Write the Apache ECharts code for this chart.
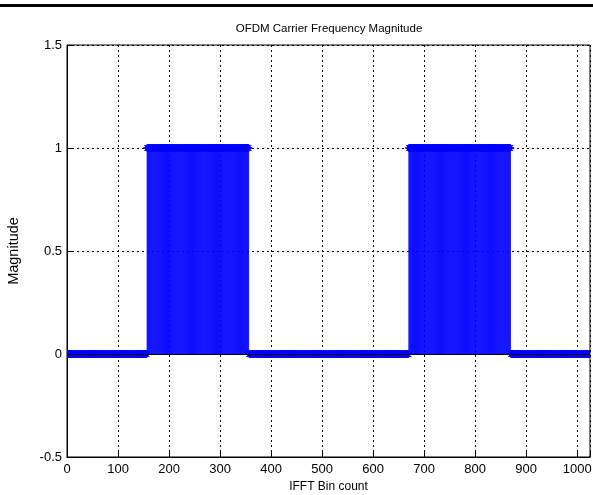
<!DOCTYPE html>
<html>
<head>
<meta charset="utf-8">
<script src="https://cdn.jsdelivr.net/npm/echarts@6/dist/echarts.min.js"></script>
<style>
  html, body { margin: 0; padding: 0; background: #fff; }
  #chart { width: 593px; height: 495px; }
</style>
</head>
<body>
<div id="chart"></div>
<script>
// Carrier magnitude per IFFT bin (bins 1..1024), stored as runs of equal value
const firstBin = 1;
const runValues = [0, 1, 0, 1, 0];
const runLengths = [156, 200, 313, 200, 155];

const xTicks = [0, 100, 200, 300, 400, 500, 600, 700, 800, 900, 1000];
const yTicks = [-0.5, 0, 0.5, 1, 1.5];

const titleText = 'OFDM Carrier Frequency Magnitude';
const xName = 'IFFT Bin count';
const yName = 'Magnitude';

// expand the runs into one [bin, magnitude] pair per bin
const stems = [];
let bin = firstBin;
runValues.forEach(function (v, i) {
  for (let k = 0; k < runLengths[i]; k++) {
    stems.push([bin, v]);
    bin++;
  }
});

const BLUE = '#0000ff';
const FONT = 'Liberation Sans, Arial, sans-serif';

// one stem: vertical line from the baseline plus an asterisk marker at the tip
function renderStem(params, api) {
  const x = api.value(0);
  const y = api.value(1);
  const tip = api.coord([x, y]);
  const base = api.coord([x, 0]);
  const r = 4;
  const d = r * 0.7071;
  const cx = tip[0], cy = tip[1];
  const stemStyle = { stroke: BLUE, lineWidth: 0.85 };
  const starStyle = { stroke: BLUE, lineWidth: 1 };
  const children = [];
  if (y !== 0) {
    children.push({ type: 'line', shape: { x1: base[0], y1: base[1], x2: cx, y2: cy }, style: stemStyle });
  }
  children.push({ type: 'line', shape: { x1: cx - r, y1: cy, x2: cx + r, y2: cy }, style: starStyle });
  children.push({ type: 'line', shape: { x1: cx, y1: cy - r, x2: cx, y2: cy + r }, style: starStyle });
  children.push({ type: 'line', shape: { x1: cx - d, y1: cy - d, x2: cx + d, y2: cy + d }, style: starStyle });
  children.push({ type: 'line', shape: { x1: cx - d, y1: cy + d, x2: cx + d, y2: cy - d }, style: starStyle });
  return { type: 'group', children: children };
}

const chart = echarts.init(document.getElementById('chart'), null, { renderer: 'canvas' });

chart.setOption({
  animation: false,
  backgroundColor: '#fff',
  title: {
    text: titleText,
    left: 324,
    textAlign: 'center',
    top: 18,
    textStyle: { fontFamily: FONT, fontSize: 11.5, fontWeight: 'normal', color: '#000' }
  },
  graphic: [
    { type: 'rect', left: 0, top: 4, shape: { width: 593, height: 3 }, style: { fill: '#000' } }
  ],
  grid: {
    left: 67, right: 3, top: 45, bottom: 38,
    containLabel: false,
    outerBoundsMode: 'none',
    show: true, borderColor: '#000', borderWidth: 1, backgroundColor: '#fff'
  },
  xAxis: {
    type: 'value',
    min: 0, max: 1025, interval: 100,
    name: xName, nameLocation: 'middle', nameGap: 24,
    nameTextStyle: { fontFamily: FONT, fontSize: 12, color: '#000' },
    axisLine: { onZero: false, lineStyle: { color: '#000' } },
    axisTick: { inside: true, length: 5, lineStyle: { color: '#000' } },
    axisLabel: {
      fontFamily: FONT, fontSize: 13, color: '#000', margin: 6,
      formatter: function (v) { return xTicks.indexOf(v) >= 0 ? String(v) : ''; }
    },
    splitLine: { show: true, lineStyle: { color: '#000', type: [2, 3], width: 1 } }
  },
  yAxis: {
    type: 'value',
    min: -0.5, max: 1.5, interval: 0.5,
    name: yName, nameLocation: 'middle', nameGap: 46, nameRotate: 90,
    nameTextStyle: { fontFamily: FONT, fontSize: 14.5, color: '#000' },
    axisLine: { show: true, lineStyle: { color: '#000' } },
    axisTick: { show: true, inside: true, length: 5, lineStyle: { color: '#000' } },
    axisLabel: {
      fontFamily: FONT, fontSize: 13, color: '#000', margin: 5,
      formatter: function (v) { return yTicks.indexOf(v) >= 0 ? String(v) : ''; }
    },
    splitLine: { show: true, lineStyle: { color: '#000', type: [2, 3], width: 1 } }
  },
  series: [
    {
      type: 'custom',
      renderItem: renderStem,
      data: stems,
      clip: true,
      markLine: {
        silent: true,
        symbol: 'none',
        label: { show: false },
        lineStyle: { color: '#000', type: 'solid', width: 1 },
        data: [{ yAxis: 0 }]
      }
    }
  ]
});
</script>
</body>
</html>
